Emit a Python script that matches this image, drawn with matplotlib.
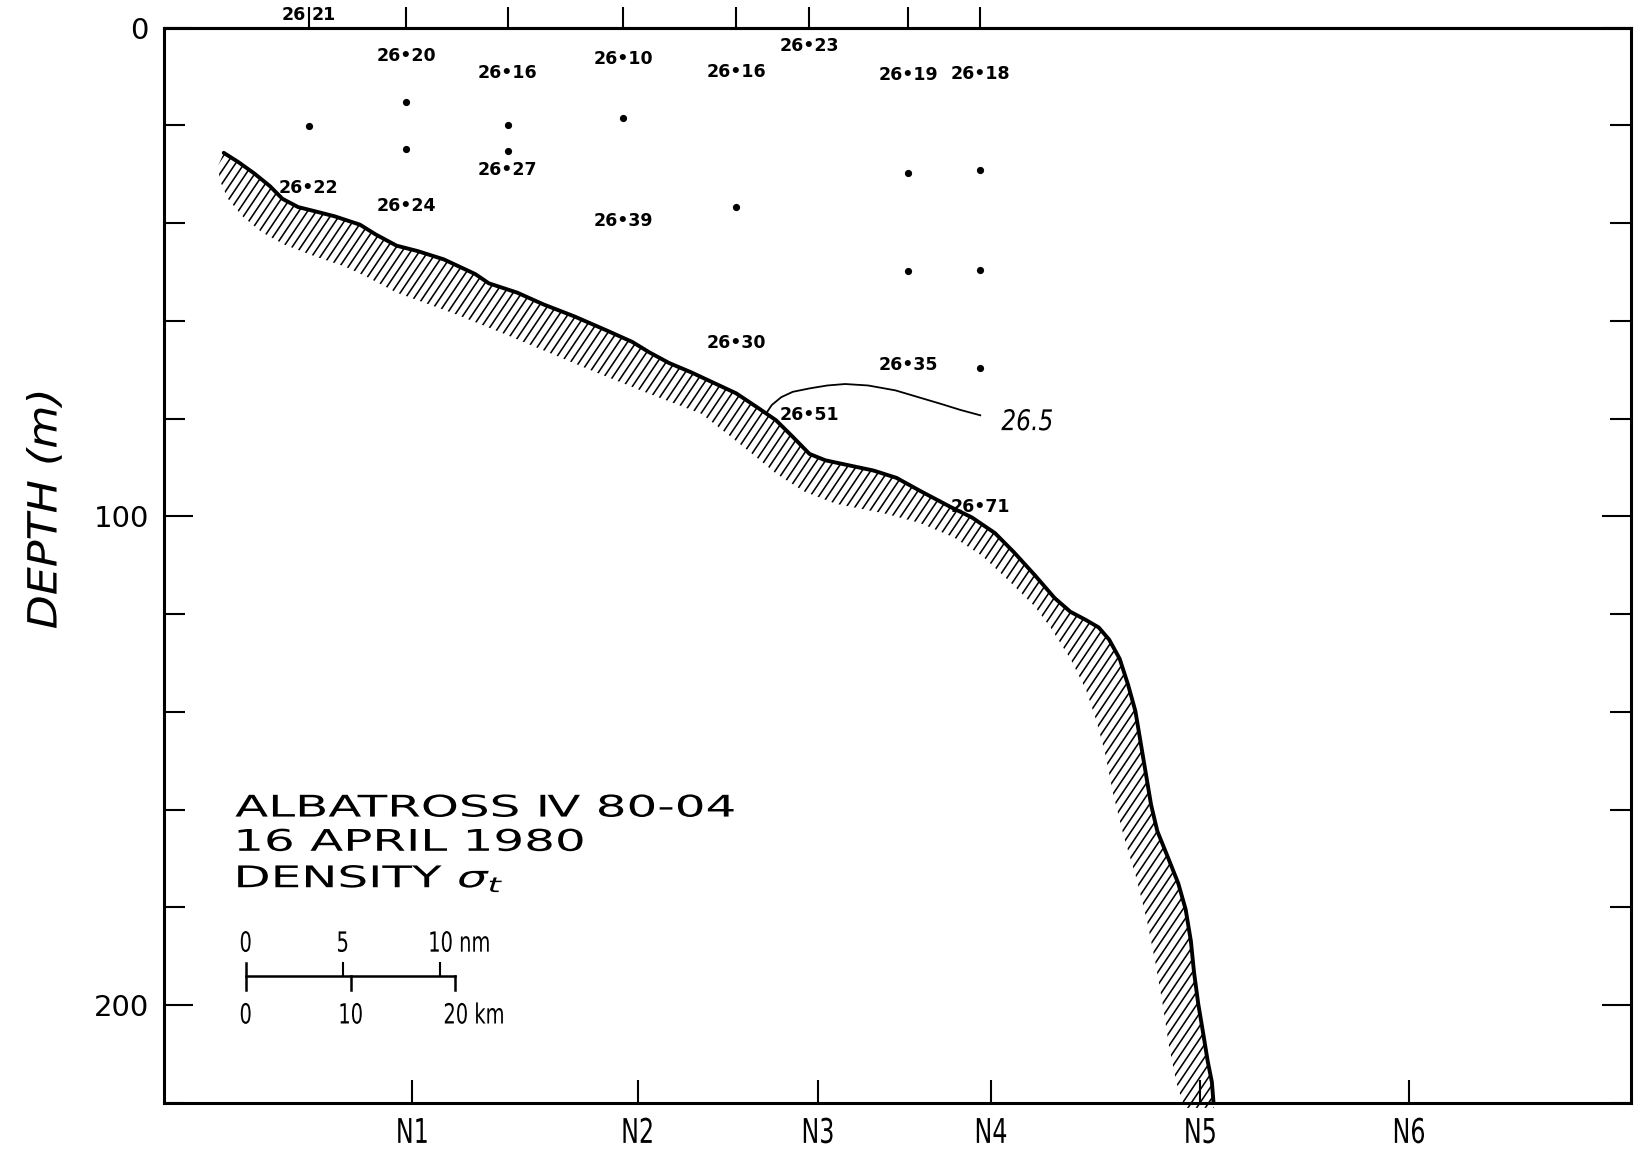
import numpy as np
import matplotlib
matplotlib.use("Agg")
import matplotlib.pyplot as plt
from matplotlib.patches import Polygon
from matplotlib.collections import LineCollection
from matplotlib.patheffects import AbstractPathEffect
from matplotlib.transforms import Affine2D
from matplotlib.ticker import MultipleLocator

# ---------------------------------------------------------------- data ----
# CTD cast positions along the section (km) and named stations
cast_km = [13.8, 23.1, 32.8, 43.8, 54.6, 61.6, 71.0, 77.9]
station_names = ["N1", "N2", "N3", "N4", "N5", "N6"]
station_km = [23.7, 45.2, 62.4, 78.9, 98.9, 118.8]

# surface value written across the first cast mark
surface_cast = 0
surface_sigma = 26.21

# sample bottles without a printed value
sample_cast = [0, 1, 1, 2, 2, 3, 4, 6, 6, 7, 7, 7]
sample_depth = [20.2, 15.1, 24.9, 20.0, 25.3, 18.5, 36.7, 29.8, 49.7, 29.2, 49.5, 69.6]

# printed sigma-t values (cast index, depth m, value)
sigma_cast = [1, 2, 3, 4, 5, 6, 7, 0, 1, 2, 3, 4, 6, 5, 7]
sigma_depth = [5.7, 9.3, 6.5, 9.1, 3.7, 9.7, 9.5, 32.8, 36.5, 29.2, 39.5, 64.5, 69.0, 79.3, 98.1]
sigma_value = [26.20, 26.16, 26.10, 26.16, 26.23, 26.19, 26.18,
               26.22, 26.24, 26.27, 26.39, 26.30, 26.35, 26.51, 26.71]

# sea floor profile
bottom_km = [5.7, 7.1, 8.6, 10.1, 11.3, 12.8, 14.3, 16.3, 18.7, 20.2, 22.2, 24.2, 26.7,
             29.7, 31.0, 33.7, 36.2, 39.2, 42.2, 44.7, 46.3, 48.2, 50.3, 52.6, 54.6, 56.7,
             58.4, 60.0, 61.6, 63.1, 64.4, 67.7, 69.9, 72.1, 73.6, 75.1, 77.1, 79.3, 81.1,
             83.1, 85.0, 86.5, 88.0, 89.2, 90.2, 91.2, 92.0, 92.7, 93.2, 93.7, 94.2, 94.8,
             95.8, 96.8, 97.5, 98.0, 98.3, 98.7, 99.2, 99.6, 100.0, 100.2]
bottom_depth = [25.6, 27.5, 29.8, 32.4, 35.0, 36.7, 37.5, 38.6, 40.3, 42.3, 44.6, 45.7, 47.4,
                50.4, 52.3, 54.2, 56.6, 59.1, 61.9, 64.3, 66.4, 68.6, 70.5, 72.8, 74.8, 77.8,
                80.3, 83.7, 87.2, 88.5, 89.1, 90.6, 92.1, 94.7, 96.4, 98.1, 100.2, 103.4, 107.3,
                112.0, 116.7, 119.5, 121.2, 122.7, 125.2, 129.1, 134.4, 139.8, 146.2, 152.6,
                159.0, 164.4, 169.7, 175.1, 180.4, 186.9, 193.3, 199.7, 206.1, 211.4, 215.7, 221.0]

# inner edge of the hatched bottom band
hatch_km = [5.2, 5.3, 6.1, 7.5, 9.3, 11.5, 14.3, 17.3, 19.2, 22.2, 27.7, 32.2, 36.2, 41.2,
            46.2, 51.3, 54.1, 56.6, 58.4, 61.1, 64.1, 68.8, 72.1, 75.4, 78.1, 80.6, 83.1,
            84.6, 86.5, 88.0, 89.0, 89.8, 90.6, 91.6, 92.8, 93.8, 94.6, 95.3, 95.9, 96.6, 97.4]
hatch_depth = [28.1, 31.1, 35.0, 38.6, 41.8, 44.4, 46.7, 48.9, 50.8, 54.2, 58.5, 62.4, 66.0,
               70.5, 74.8, 79.0, 83.7, 88.0, 91.2, 94.9, 97.4, 99.4, 101.3, 104.3, 108.1,
               113.1, 118.4, 122.7, 129.1, 135.5, 141.9, 148.3, 156.9, 165.5, 174.0, 182.6,
               191.1, 199.7, 208.2, 215.7, 221.0]

# 26.5 isopycnal
iso_value = 26.5
iso_km = [57.5, 58.0, 58.9, 60.0, 61.6, 63.3, 65.0, 67.2, 69.8, 72.0, 74.2, 76.0, 77.9]
iso_depth = [78.8, 77.2, 75.6, 74.5, 73.8, 73.2, 72.9, 73.2, 74.2, 75.6, 77.0, 78.2, 79.3]

# distance scale
bar_nm = [0, 5, 10]
bar_km = [0, 10, 20]
km_per_nm = 1.852

title_lines = ["ALBATROSS \u2163 80-04", "16 APRIL 1980", r"DENSITY $\sigma_t$"]

plt.rcParams["font.family"] = ["DejaVu Sans"]
plt.rcParams["mathtext.fontset"] = "dejavusans"


class Stretch(AbstractPathEffect):
    """Scale drawn glyph outlines about their own centre (or left edge)."""

    def __init__(self, sx=1.0, sy=1.0, anchor="center"):
        super().__init__()
        self.sx, self.sy, self.anchor = sx, sy, anchor

    def draw_path(self, renderer, gc, tpath, affine, rgbFace=None):
        ext = tpath.get_extents(affine)
        ox = ext.x0 if self.anchor == "left" else 0.5 * (ext.x0 + ext.x1)
        oy = 0.5 * (ext.y0 + ext.y1)
        t = affine + Affine2D().translate(-ox, -oy).scale(self.sx, self.sy).translate(ox, oy)
        renderer.draw_path(gc, tpath, t, rgbFace)


W, H, DPI = 1638, 1159, 100
fig = plt.figure(figsize=(W / DPI, H / DPI), dpi=DPI)
ax = fig.add_axes([164 / W, 1 - 1103 / H, 1467 / W, (1103 - 27.7) / H])
ax.set_xlim(0, 140)
ax.set_ylim(220, 0)
for sp in ax.spines.values():
    sp.set_linewidth(2.2)

# axes ticks
ax.set_xticks(station_km, station_names, fontsize=24.5,
              path_effects=[Stretch(0.7, 1.0)])
ax.tick_params(axis="x", which="major", direction="in", length=16.5, width=1.5,
               pad=10, bottom=True, top=False)
ax.set_yticks([0, 100, 200], ["0", "100", "200"], fontsize=21)
ax.yaxis.set_minor_locator(MultipleLocator(20))
ax.tick_params(axis="y", which="major", direction="in", length=21, width=1.5,
               left=True, right=True, pad=11)
ax.tick_params(axis="y", which="minor", direction="in", length=15, width=1.5,
               left=True, right=True)

sec = ax.secondary_xaxis("top")
sec.set_xticks(cast_km, [""] * len(cast_km))
sec.tick_params(direction="out", length=15, width=1.5)
for sp in sec.spines.values():
    sp.set_linewidth(2.2)

ax.text(-0.0811, 0.5524, "DEPTH (m)", transform=ax.transAxes, rotation=90,
        ha="center", va="center", fontsize=29, fontstyle="italic",
        path_effects=[Stretch(1.0, 1.1)])

# hatched bottom band
poly_xy = np.column_stack([np.r_[bottom_km, hatch_km[::-1]],
                           np.r_[bottom_depth, hatch_depth[::-1]]])
band = Polygon(poly_xy, closed=True, facecolor="none", edgecolor="none",
               transform=ax.transData)
ax.add_patch(band)
disp = ax.transData.transform(poly_xy)
lo, hi = disp.min(axis=0), disp.max(axis=0)
ang = np.deg2rad(56)
d = np.array([np.cos(ang), np.sin(ang)])
n = np.array([-np.sin(ang), np.cos(ang)])
corners = np.array([[lo[0], lo[1]], [lo[0], hi[1]], [hi[0], lo[1]], [hi[0], hi[1]]])
proj = corners @ n
span = np.hypot(*(hi - lo))
t0 = (0.5 * (lo + hi)) @ d
segs = []
for s in np.arange(proj.min(), proj.max(), 7.2):
    segs.append([s * n + (t0 - span) * d, s * n + (t0 + span) * d])
segs = np.array(segs)
segs_data = ax.transData.inverted().transform(segs.reshape(-1, 2)).reshape(-1, 2, 2)
hatch = LineCollection(segs_data, colors="black", linewidths=1.15)
hatch.set_clip_path(band)
ax.add_collection(hatch, autolim=False)

ax.plot(bottom_km, bottom_depth, color="black", lw=2.8, solid_capstyle="round",
        solid_joinstyle="round")

# isopycnal
ax.plot(iso_km, iso_depth, color="black", lw=1.3)
ax.text(82.4, 80.7, f"{iso_value}", fontsize=20.5, fontstyle="italic",
        ha="center", va="center", path_effects=[Stretch(0.82)])

# sample dots and values
ax.plot([cast_km[i] for i in sample_cast], sample_depth, "o", color="black",
        ms=5.2, mec="none")
for ci, dep, val in zip(sigma_cast, sigma_depth, sigma_value):
    ax.text(cast_km[ci], dep, f"{val:.2f}".replace(".", "\u2022"), fontsize=12.5,
            fontweight="bold", ha="center", va="center")

left_part, right_part = f"{surface_sigma:.2f}".split(".")
ax.annotate(left_part, xy=(cast_km[surface_cast], 0), xytext=(-2, 9.1),
            textcoords="offset points", ha="right", va="center", fontsize=12.5,
            fontweight="bold", annotation_clip=False)
ax.annotate(right_part, xy=(cast_km[surface_cast], 0), xytext=(2, 9.1),
            textcoords="offset points", ha="left", va="center", fontsize=12.5,
            fontweight="bold", annotation_clip=False)

# cruise block
for txt, dep in zip(title_lines, [161.4, 168.4, 175.9]):
    ax.text(6.8, dep, txt, fontsize=21.5, ha="left", va="baseline",
            path_effects=[Stretch(1.62, 1.0, anchor="left")])

# distance scale
bar_x0, bar_depth = 7.8, 194.0
up, down = 2.7, 2.9
ax.plot([bar_x0, bar_x0 + bar_km[-1]], [bar_depth, bar_depth], color="black", lw=1.8)
ax.plot([bar_x0, bar_x0], [bar_depth - up, bar_depth + down], color="black", lw=1.8)
for v in bar_nm[1:]:
    x = bar_x0 + v * km_per_nm
    ax.plot([x, x], [bar_depth - up, bar_depth], color="black", lw=1.5)
for v in bar_km[1:]:
    x = bar_x0 + v
    ax.plot([x, x], [bar_depth, bar_depth + down], color="black", lw=1.8)

scale_fx = [Stretch(0.7, 1.0)]
scale_fx_left = [Stretch(0.7, 1.0, anchor="left")]
for v in bar_nm:
    x = bar_x0 + v * km_per_nm
    if v == bar_nm[-1]:
        ax.annotate(f"{v} nm", xy=(x, 187.4), xytext=(-9, 0), textcoords="offset points",
                    ha="left", va="center", fontsize=20, path_effects=scale_fx_left)
    else:
        ax.text(x, 187.4, f"{v}", ha="center", va="center", fontsize=20,
                path_effects=scale_fx)
for v in bar_km:
    x = bar_x0 + v
    if v == bar_km[-1]:
        ax.annotate(f"{v} km", xy=(x, 202.1), xytext=(-9, 0), textcoords="offset points",
                    ha="left", va="center", fontsize=20, path_effects=scale_fx_left)
    else:
        ax.text(x, 202.1, f"{v}", ha="center", va="center", fontsize=20,
                path_effects=scale_fx)

fig.savefig("out.png", dpi=DPI, facecolor="white")
